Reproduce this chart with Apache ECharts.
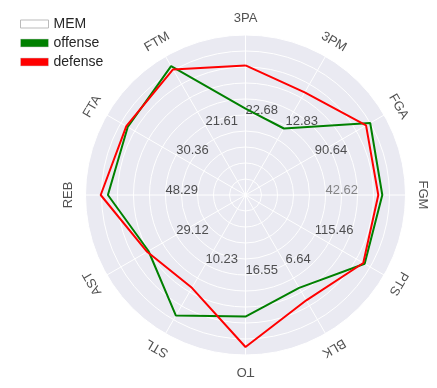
<!DOCTYPE html>
<html>
<head>
<meta charset="utf-8">
<script src="https://cdn.jsdelivr.net/npm/echarts@6/dist/echarts.min.js"></script>
<style>html,body{margin:0;padding:0;background:#fff}#c{width:437px;height:388px}</style>
</head>
<body>
<div id="c"></div>
<script>
const categories = ['3PA','3PM','FGA','FGM','PTS','BLK','TO','STL','AST','REB','FTA','FTM'];
const offense = [0.54,0.48,0.90,0.855,0.86,0.67,0.76,0.87,0.70,0.86,0.85,0.93];
const defense = [0.81,0.74,0.87,0.83,0.85,0.76,0.95,0.67,0.71,0.905,0.86,0.906];
const scaleLabels = ['22.68','12.83','90.64','42.62','115.46','6.64','16.55','10.23','29.12','48.29','30.36','21.61'];
const legendNames = ['MEM','offense','defense'];

const step = 360 / categories.length;
function loop(vals){
  const d = vals.map((v,i)=>[v, i*step]);
  d.push([vals[0], 360]);
  return d;
}
const font = 'Liberation Sans, Arial, sans-serif';
const txt = '#262626';
const hidden = {axisLine:{show:false}, axisTick:{show:false}, axisLabel:{show:false}};

const chart = echarts.init(document.getElementById('c'), null, {renderer:'canvas'});
chart.setOption({
  animation:false,
  legend:{
    orient:'vertical', left:15, top:12, itemWidth:28, itemHeight:8, itemGap:5, icon:'rect',
    textStyle:{fontFamily:font, fontSize:14, color:txt},
    data:[
      {name:legendNames[0], itemStyle:{color:'#ffffff', borderColor:'#bbbbbb', borderWidth:1}},
      {name:legendNames[1], itemStyle:{color:'#008000', borderColor:'#cccccc', borderWidth:0.5}},
      {name:legendNames[2], itemStyle:{color:'#ff0000', borderColor:'#cccccc', borderWidth:0.5}}
    ]
  },
  polar:[{center:[245.5,195], radius:160}, {center:[245.5,195], radius:160}],
  angleAxis:[
    Object.assign({polarIndex:0, type:'value', min:0, max:360, interval:step, startAngle:90, clockwise:true,
      splitLine:{show:true, lineStyle:{color:'#ffffff', width:1}}, z:1}, hidden),
    Object.assign({polarIndex:1, type:'value', min:0, max:360, interval:step, startAngle:90, clockwise:true,
      splitLine:{show:false}, z:1}, hidden)
  ],
  radiusAxis:[
    Object.assign({polarIndex:0, type:'value', min:0, max:1, interval:0.1, z:0,
      splitLine:{show:false}, splitArea:{show:true, areaStyle:{color:['#eaeaf2']}}}, hidden),
    Object.assign({polarIndex:1, type:'value', min:0, max:1, interval:0.1, z:1,
      splitLine:{show:true, lineStyle:{color:'#ffffff', width:1}}}, hidden)
  ],
  series:[
    {name:legendNames[0], type:'line', coordinateSystem:'polar', polarIndex:0, data:[], itemStyle:{color:'#ffffff'}},
    {name:legendNames[1], type:'line', coordinateSystem:'polar', polarIndex:0, data:loop(offense), showSymbol:false, symbol:'none',
     lineStyle:{color:'#008000', width:2}, itemStyle:{color:'#008000'}, z:3},
    {name:legendNames[2], type:'line', coordinateSystem:'polar', polarIndex:0, data:loop(defense), showSymbol:false, symbol:'none',
     lineStyle:{color:'#ff0000', width:2}, itemStyle:{color:'#ff0000'}, z:4},
    {type:'scatter', coordinateSystem:'polar', polarIndex:0, clip:false, symbolSize:0.1, itemStyle:{color:'rgba(0,0,0,0)'}, silent:true, z:5,
     data:categories.map((c,i)=>({value:[1.105, i*step], label:{show:true, formatter:c, position:'inside', rotate:-i*step,
       fontFamily:font, fontSize:13, color:txt}}))},
    {type:'scatter', coordinateSystem:'polar', polarIndex:0, clip:false, symbolSize:0.1, itemStyle:{color:'rgba(0,0,0,0)'}, silent:true, z:2,
     data:scaleLabels.map((s,i)=>({value:[0.5, i*step], label:{show:true, formatter:s, position:[0,2], align:'left', verticalAlign:'bottom',
       fontFamily:font, fontSize:13, color:(i===3?'#6a6a6a':txt)}}))}
  ]
});
</script>
</body>
</html>
